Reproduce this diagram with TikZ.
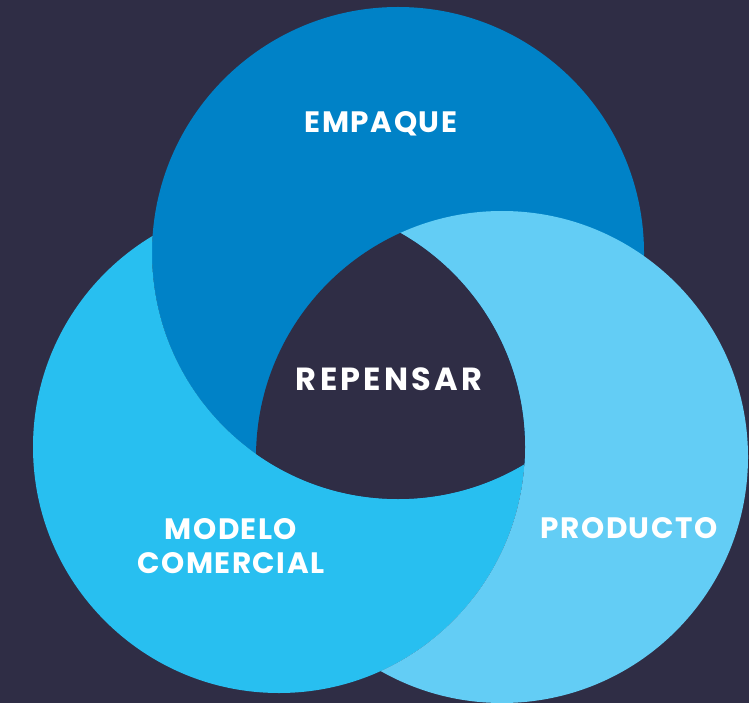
\documentclass[tikz,border=0pt]{standalone}
\usepackage{fontspec}
\setsansfont{Poppins}
\usepackage{xcolor}
\definecolor{fondo}{HTML}{2F2D45}
\definecolor{azulEmp}{HTML}{0082C7}
\definecolor{azulMod}{HTML}{28BFF0}
\definecolor{azulProd}{HTML}{63CDF5}
\tikzset{
  etiqueta/.style={text=white, font=\sffamily\bfseries\fontsize{29.5}{34}\selectfont\addfontfeatures{LetterSpace=5}, align=center, inner sep=0pt},
  centro/.style={etiqueta, font=\sffamily\bfseries\fontsize{32}{36}\selectfont\addfontfeatures{LetterSpace=10}}
}

\begin{document}
\begin{tikzpicture}[x=1pt, y=-1pt]
\fill[fondo] (0,0) rectangle (749,703);
\useasboundingbox (0,0) rectangle (749,703);
\coordinate (cEmp) at (398,253);
\coordinate (cMod) at (279,447);
\coordinate (cProd) at (502,457);
\fill[azulEmp] (cEmp) circle (246pt);
\begin{scope}[even odd rule]
\clip (-10,-10) rectangle (760,713) (cEmp) circle (246pt);
\fill[azulMod] (cMod) circle (246pt);
\end{scope}
\begin{scope}[even odd rule]
\clip (-10,-10) rectangle (760,713) (cMod) circle (246pt);
\fill[azulProd] (cProd) circle (246pt);
\end{scope}
\begin{scope}
\clip (cEmp) circle (246pt);
\clip (cMod) circle (246pt);
\fill[fondo] (cProd) circle (246pt);
\end{scope}
\node[etiqueta] (empaque) at (381,124) {EMPAQUE};
\node[centro] (repensar) at (389,379) {REPENSAR};
\node[etiqueta] (modelo) at (231,546) {MODELO\\COMERCIAL};
\node[etiqueta] (producto) at (629,528) {PRODUCTO};
\end{tikzpicture}
\end{document}
